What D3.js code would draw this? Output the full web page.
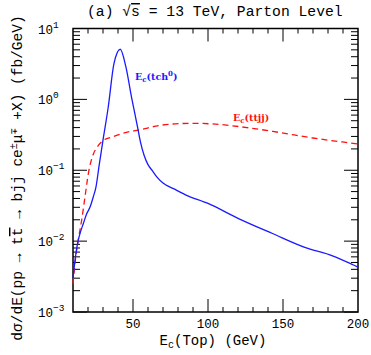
<!DOCTYPE html>
<html>
<head>
<meta charset="utf-8">
<script src="https://cdn.jsdelivr.net/npm/d3@7"></script>
<style>
  body { margin: 0; background: #fff; }
  text { font-family: "Liberation Mono", "DejaVu Sans Mono", monospace; fill: #000; }
</style>
</head>
<body>
<div id="chart"></div>
<script>
// E_c(tch0) signal, blue solid
var tchE = [10, 12, 13.5, 15, 16.9, 19, 21.3, 23.5, 25.3, 27.5, 29.8, 33.5, 37.3, 41.5, 45.3, 49, 53, 55, 57.5, 60, 63, 66, 70, 77, 85, 100, 120, 143, 165, 183, 197, 200];
var tchV = [0.0030, 0.0068, 0.0103, 0.0135, 0.0177, 0.024, 0.030, 0.042, 0.058, 0.12, 0.25, 0.78, 3.2, 5.1, 2.85, 1.08, 0.41, 0.25, 0.16, 0.12, 0.098, 0.080, 0.066, 0.055, 0.045, 0.034, 0.021, 0.0128, 0.0081, 0.0062, 0.0046, 0.0043];
// E_c(ttjj) background, red dashed
var ttjjE = [10, 12, 13.5, 15.8, 18, 20.2, 23.6, 26, 29.8, 35, 39, 45, 54, 68, 81, 90, 103, 126, 148, 170, 198, 200];
var ttjjV = [0.0025, 0.0065, 0.0103, 0.020, 0.042, 0.089, 0.17, 0.21, 0.26, 0.29, 0.31, 0.34, 0.37, 0.43, 0.455, 0.46, 0.45, 0.40, 0.34, 0.285, 0.238, 0.235];

var xTicks = [50, 100, 150, 200];
var yDecades = [-3, -2, -1, 0, 1];

var width = 371, height = 355;
var m = {left: 73, right: 13, top: 28.5, bottom: 43};

var svg = d3.select('#chart').append('svg')
    .attr('width', width)
    .attr('height', height);

var x = d3.scaleLinear().domain([10, 200]).range([m.left, width - m.right]);
var y = d3.scaleLog().domain([1e-3, 10]).range([height - m.bottom, m.top]);

// frame
svg.append('rect')
    .attr('x', x(10)).attr('y', y(10))
    .attr('width', x(200) - x(10)).attr('height', y(1e-3) - y(10))
    .attr('fill', 'none').attr('stroke', '#000').attr('stroke-width', 1.5);

// x ticks, bottom and top
var xMinor = d3.range(20, 200, 10);
xMinor.forEach(function(v) {
    var major = v % 50 === 0;
    var len = major ? 13 : 5;
    svg.append('line').attr('x1', x(v)).attr('x2', x(v))
        .attr('y1', y(1e-3)).attr('y2', y(1e-3) - len)
        .attr('stroke', '#000').attr('stroke-width', 1);
    svg.append('line').attr('x1', x(v)).attr('x2', x(v))
        .attr('y1', y(10)).attr('y2', y(10) + len)
        .attr('stroke', '#000').attr('stroke-width', 1);
});

svg.selectAll('.xlab').data(xTicks).enter().append('text')
    .attr('x', function(d) { return x(d); })
    .attr('y', 328)
    .attr('text-anchor', 'middle')
    .style('font-size', '12.5px')
    .text(function(d) { return d; });

// y ticks, left and right
yDecades.forEach(function(p) {
    var steps = p < 1 ? d3.range(1, 10) : [1];
    steps.forEach(function(k) {
        var v = k * Math.pow(10, p);
        var len = k === 1 ? 14 : 7;
        svg.append('line').attr('x1', x(10)).attr('x2', x(10) + len)
            .attr('y1', y(v)).attr('y2', y(v))
            .attr('stroke', '#000').attr('stroke-width', 1);
        svg.append('line').attr('x1', x(200)).attr('x2', x(200) - len)
            .attr('y1', y(v)).attr('y2', y(v))
            .attr('stroke', '#000').attr('stroke-width', 1);
    });
    var t = svg.append('text')
        .attr('x', 38)
        .attr('y', y(Math.pow(10, p)) + 5)
        .style('font-size', '12.5px');
    t.append('tspan').text('10');
    t.append('tspan').attr('dy', -6).style('font-size', '9.5px').text(p < 0 ? '\u2212' + (-p) : p);
});

// curves
var line = d3.line()
    .x(function(d) { return x(d[0]); })
    .y(function(d) { return y(d[1]); })
    .curve(d3.curveMonotoneX);

svg.append('path')
    .datum(ttjjE.map(function(e, i) { return [e, ttjjV[i]]; }))
    .attr('d', line)
    .attr('fill', 'none')
    .attr('stroke', '#ff1010')
    .attr('stroke-width', 1.3)
    .attr('stroke-dasharray', '6,4');

svg.append('path')
    .datum(tchE.map(function(e, i) { return [e, tchV[i]]; }))
    .attr('d', line)
    .attr('fill', 'none')
    .attr('stroke', '#1a1aff')
    .attr('stroke-width', 1.3);

// curve labels
function curveLabel(px, py, color, sub, rest, sup) {
    var t = svg.append('text')
        .attr('x', px).attr('y', py)
        .style('font-family', '"DejaVu Serif", serif')
        .style('font-weight', 'bold')
        .style('font-size', '9.5px')
        .style('fill', color);
    t.append('tspan').text('E');
    t.append('tspan').attr('dy', 2).style('font-size', '7px').text(sub);
    t.append('tspan').attr('dy', -2).text(rest);
    if (sup) {
        t.append('tspan').attr('dy', -4).style('font-size', '7px').text(sup);
        t.append('tspan').attr('dy', 4).text(')');
    } else {
        t.append('tspan').text(')');
    }
}
curveLabel(135, 80, '#1a1aff', 'c', '(tch', '0');
curveLabel(233, 121, '#ff1010', 'c', '(ttjj', null);

// title
var title = svg.append('text')
    .attr('x', 87).attr('y', 16)
    .style('font-size', '14.7px');
title.append('tspan').text('(a) \u221A');
title.append('tspan').style('text-decoration', 'overline').text('s');
title.append('tspan').text('  = 13 TeV, Parton Level');

// x label
var xl = svg.append('text')
    .attr('x', 213).attr('y', 345)
    .attr('text-anchor', 'middle')
    .style('font-size', '14px');
xl.append('tspan').text('E');
xl.append('tspan').attr('dy', 3).style('font-size', '10px').text('c');
xl.append('tspan').attr('dy', -3).text('(Top) (GeV)');

// y label
var yl = svg.append('text')
    .attr('transform', 'translate(22,178) rotate(-90)')
    .attr('text-anchor', 'middle')
    .style('font-size', '14.5px');
yl.append('tspan').text('d\u03C3/dE(pp \u2192 t');
yl.append('tspan').style('text-decoration', 'overline').text('t');
yl.append('tspan').text(' \u2192 bjj ce');
yl.append('tspan').attr('dy', -5).style('font-size', '10px').text('\u00B1');
yl.append('tspan').attr('dy', 5).text('\u03BC');
yl.append('tspan').attr('dy', -5).style('font-size', '10px').text('\u2213');
yl.append('tspan').attr('dy', 5).text(' +X) (fb/GeV)');
</script>
</body>
</html>
